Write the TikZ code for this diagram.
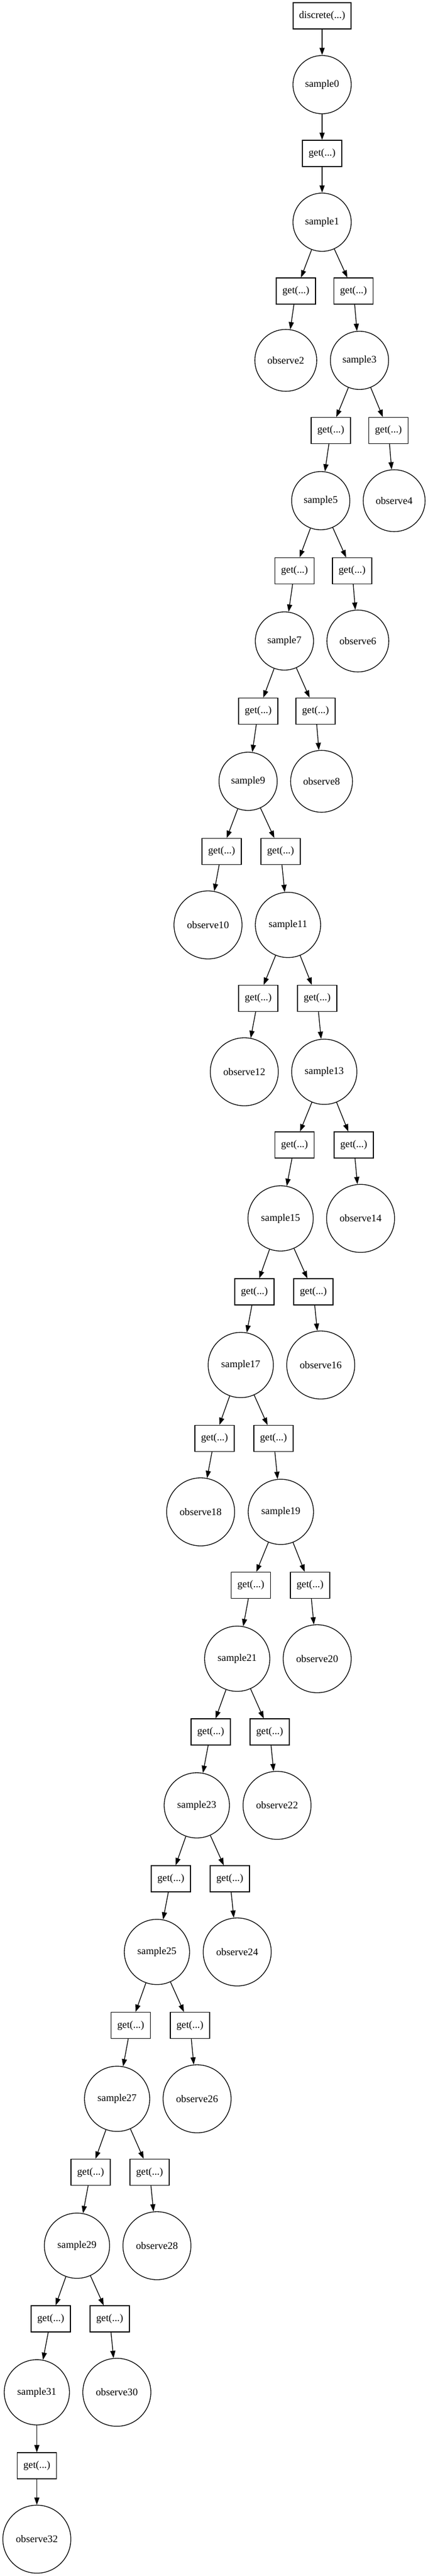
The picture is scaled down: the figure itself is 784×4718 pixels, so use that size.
\documentclass[tikz,border=0pt]{standalone}
\usepackage{fontspec}
\setmainfont{Liberation Serif}
\usetikzlibrary{arrows.meta}

\begin{document}
\begin{tikzpicture}[x=0.75pt, y=-0.75pt, line width=1pt,
		font=\fontsize{14pt}{16pt}\selectfont,
		>={Triangle[length=10pt,width=7pt]},
		call/.style={draw, rectangle, minimum width=54pt, minimum height=36pt, inner sep=0pt},
		smp/.style={draw, circle, minimum size=80pt, inner sep=0pt},
		smpw/.style={smp, minimum size=89.6pt},
		obs/.style={draw, circle, minimum size=85pt, inner sep=0pt},
		obsw/.style={obs, minimum size=93.4pt}]
		\useasboundingbox (0,0) rectangle (784,4718); %% page size
		% nodes, top to bottom
		\node[call, minimum width=79.5pt] (disc) at (590,29) {discrete(...)};
		\node[smp] (s0) at (590,155) {sample0};
		\node[call] (g0) at (590,281) {get(...)};
		\node[smp] (s1) at (590,407) {sample1};
		\node[call] (g1a) at (542,533) {get(...)};
		\node[call] (g1b) at (647.5,533) {get(...)};
		\node[obs] (o2) at (523.5,660) {observe2};
		\node[smp] (s3) at (658.5,660) {sample3};
		\node[call] (g3a) at (606,788.5) {get(...)};
		\node[call] (g3b) at (711.5,788.5) {get(...)};
		\node[smp] (s5) at (587.5,917) {sample5};
		\node[obs] (o4) at (722,917) {observe4};
		\node[call] (g5a) at (539.5,1045.5) {get(...)};
		\node[call] (g5b) at (645,1045.5) {get(...)};
		\node[smp] (s7) at (521,1174) {sample7};
		\node[obs] (o6) at (655.5,1174) {observe6};
		\node[call] (g7a) at (473,1302.5) {get(...)};
		\node[call] (g7b) at (578,1302.5) {get(...)};
		\node[smp] (s9) at (454.5,1431) {sample9};
		\node[obs] (o8) at (589,1431) {observe8};
		\node[call] (g9a) at (406,1559.5) {get(...)};
		\node[call] (g9b) at (514,1559.5) {get(...)};
		\node[obsw] (o10) at (381,1694) {observe10};
		\node[smpw] (s11) at (527.5,1694) {sample11};
		\node[call] (g11a) at (473,1828.5) {get(...)};
		\node[call] (g11b) at (581,1828.5) {get(...)};
		\node[obsw] (o12) at (447.5,1963) {observe12};
		\node[smpw] (s13) at (594,1963) {sample13};
		\node[call] (g13a) at (539.5,2097) {get(...)};
		\node[call] (g13b) at (648,2097) {get(...)};
		\node[smpw] (s15) at (514,2231.5) {sample15};
		\node[obsw] (o14) at (660.5,2231.5) {observe14};
		\node[call] (g15a) at (466,2366) {get(...)};
		\node[call] (g15b) at (574,2366) {get(...)};
		\node[smpw] (s17) at (441,2500) {sample17};
		\node[obsw] (o16) at (587.5,2500) {observe16};
		\node[call] (g17a) at (393,2634.5) {get(...)};
		\node[call] (g17b) at (501,2634.5) {get(...)};
		\node[obsw] (o18) at (367.5,2769) {observe18};
		\node[smpw] (s19) at (514.5,2769) {sample19};
		\node[call] (g19a) at (459.5,2903.5) {get(...)};
		\node[call] (g19b) at (568,2903.5) {get(...)};
		\node[smpw] (s21) at (434.5,3038) {sample21};
		\node[obsw] (o20) at (581,3038) {observe20};
		\node[call] (g21a) at (386,3172) {get(...)};
		\node[call] (g21b) at (494,3172) {get(...)};
		\node[smpw] (s23) at (360.5,3306.5) {sample23};
		\node[obsw] (o22) at (507.5,3306.5) {observe22};
		\node[call] (g23a) at (313,3441) {get(...)};
		\node[call] (g23b) at (421,3441) {get(...)};
		\node[smpw] (s25) at (287.5,3575) {sample25};
		\node[obsw] (o24) at (434.5,3575) {observe24};
		\node[call] (g25a) at (239.5,3709.5) {get(...)};
		\node[call] (g25b) at (348,3709.5) {get(...)};
		\node[smpw] (s27) at (214.5,3844) {sample27};
		\node[obsw] (o26) at (361,3844) {observe26};
		\node[call] (g27a) at (166,3978.5) {get(...)};
		\node[call] (g27b) at (274,3978.5) {get(...)};
		\node[smpw] (s29) at (141,4113) {sample29};
		\node[obsw] (o28) at (287.5,4113) {observe28};
		\node[call] (g29a) at (93,4247) {get(...)};
		\node[call] (g29b) at (201,4247) {get(...)};
		\node[smpw] (s31) at (67.5,4381.5) {sample31};
		\node[obsw] (o30) at (214,4381.5) {observe30};
		\node[call] (g31) at (67.5,4516) {get(...)};
		\node[obsw] (o32) at (67.5,4650.5) {observe32};
		% edges
		\draw[->] (disc) -- (s0);
		\draw[->] (s0) -- (g0);
		\draw[->] (g0) -- (s1);
		\draw[->] (s1) -- (g1a); \draw[->] (s1) -- (g1b);
		\draw[->] (g1a) -- (o2); \draw[->] (g1b) -- (s3);
		\draw[->] (s3) -- (g3a); \draw[->] (s3) -- (g3b);
		\draw[->] (g3a) -- (s5); \draw[->] (g3b) -- (o4);
		\draw[->] (s5) -- (g5a); \draw[->] (s5) -- (g5b);
		\draw[->] (g5a) -- (s7); \draw[->] (g5b) -- (o6);
		\draw[->] (s7) -- (g7a); \draw[->] (s7) -- (g7b);
		\draw[->] (g7a) -- (s9); \draw[->] (g7b) -- (o8);
		\draw[->] (s9) -- (g9a); \draw[->] (s9) -- (g9b);
		\draw[->] (g9a) -- (o10); \draw[->] (g9b) -- (s11);
		\draw[->] (s11) -- (g11a); \draw[->] (s11) -- (g11b);
		\draw[->] (g11a) -- (o12); \draw[->] (g11b) -- (s13);
		\draw[->] (s13) -- (g13a); \draw[->] (s13) -- (g13b);
		\draw[->] (g13a) -- (s15); \draw[->] (g13b) -- (o14);
		\draw[->] (s15) -- (g15a); \draw[->] (s15) -- (g15b);
		\draw[->] (g15a) -- (s17); \draw[->] (g15b) -- (o16);
		\draw[->] (s17) -- (g17a); \draw[->] (s17) -- (g17b);
		\draw[->] (g17a) -- (o18); \draw[->] (g17b) -- (s19);
		\draw[->] (s19) -- (g19a); \draw[->] (s19) -- (g19b);
		\draw[->] (g19a) -- (s21); \draw[->] (g19b) -- (o20);
		\draw[->] (s21) -- (g21a); \draw[->] (s21) -- (g21b);
		\draw[->] (g21a) -- (s23); \draw[->] (g21b) -- (o22);
		\draw[->] (s23) -- (g23a); \draw[->] (s23) -- (g23b);
		\draw[->] (g23a) -- (s25); \draw[->] (g23b) -- (o24);
		\draw[->] (s25) -- (g25a); \draw[->] (s25) -- (g25b);
		\draw[->] (g25a) -- (s27); \draw[->] (g25b) -- (o26);
		\draw[->] (s27) -- (g27a); \draw[->] (s27) -- (g27b);
		\draw[->] (g27a) -- (s29); \draw[->] (g27b) -- (o28);
		\draw[->] (s29) -- (g29a); \draw[->] (s29) -- (g29b);
		\draw[->] (g29a) -- (s31); \draw[->] (g29b) -- (o30);
		\draw[->] (s31) -- (g31);
		\draw[->] (g31) -- (o32);
	\end{tikzpicture}
\end{document}
